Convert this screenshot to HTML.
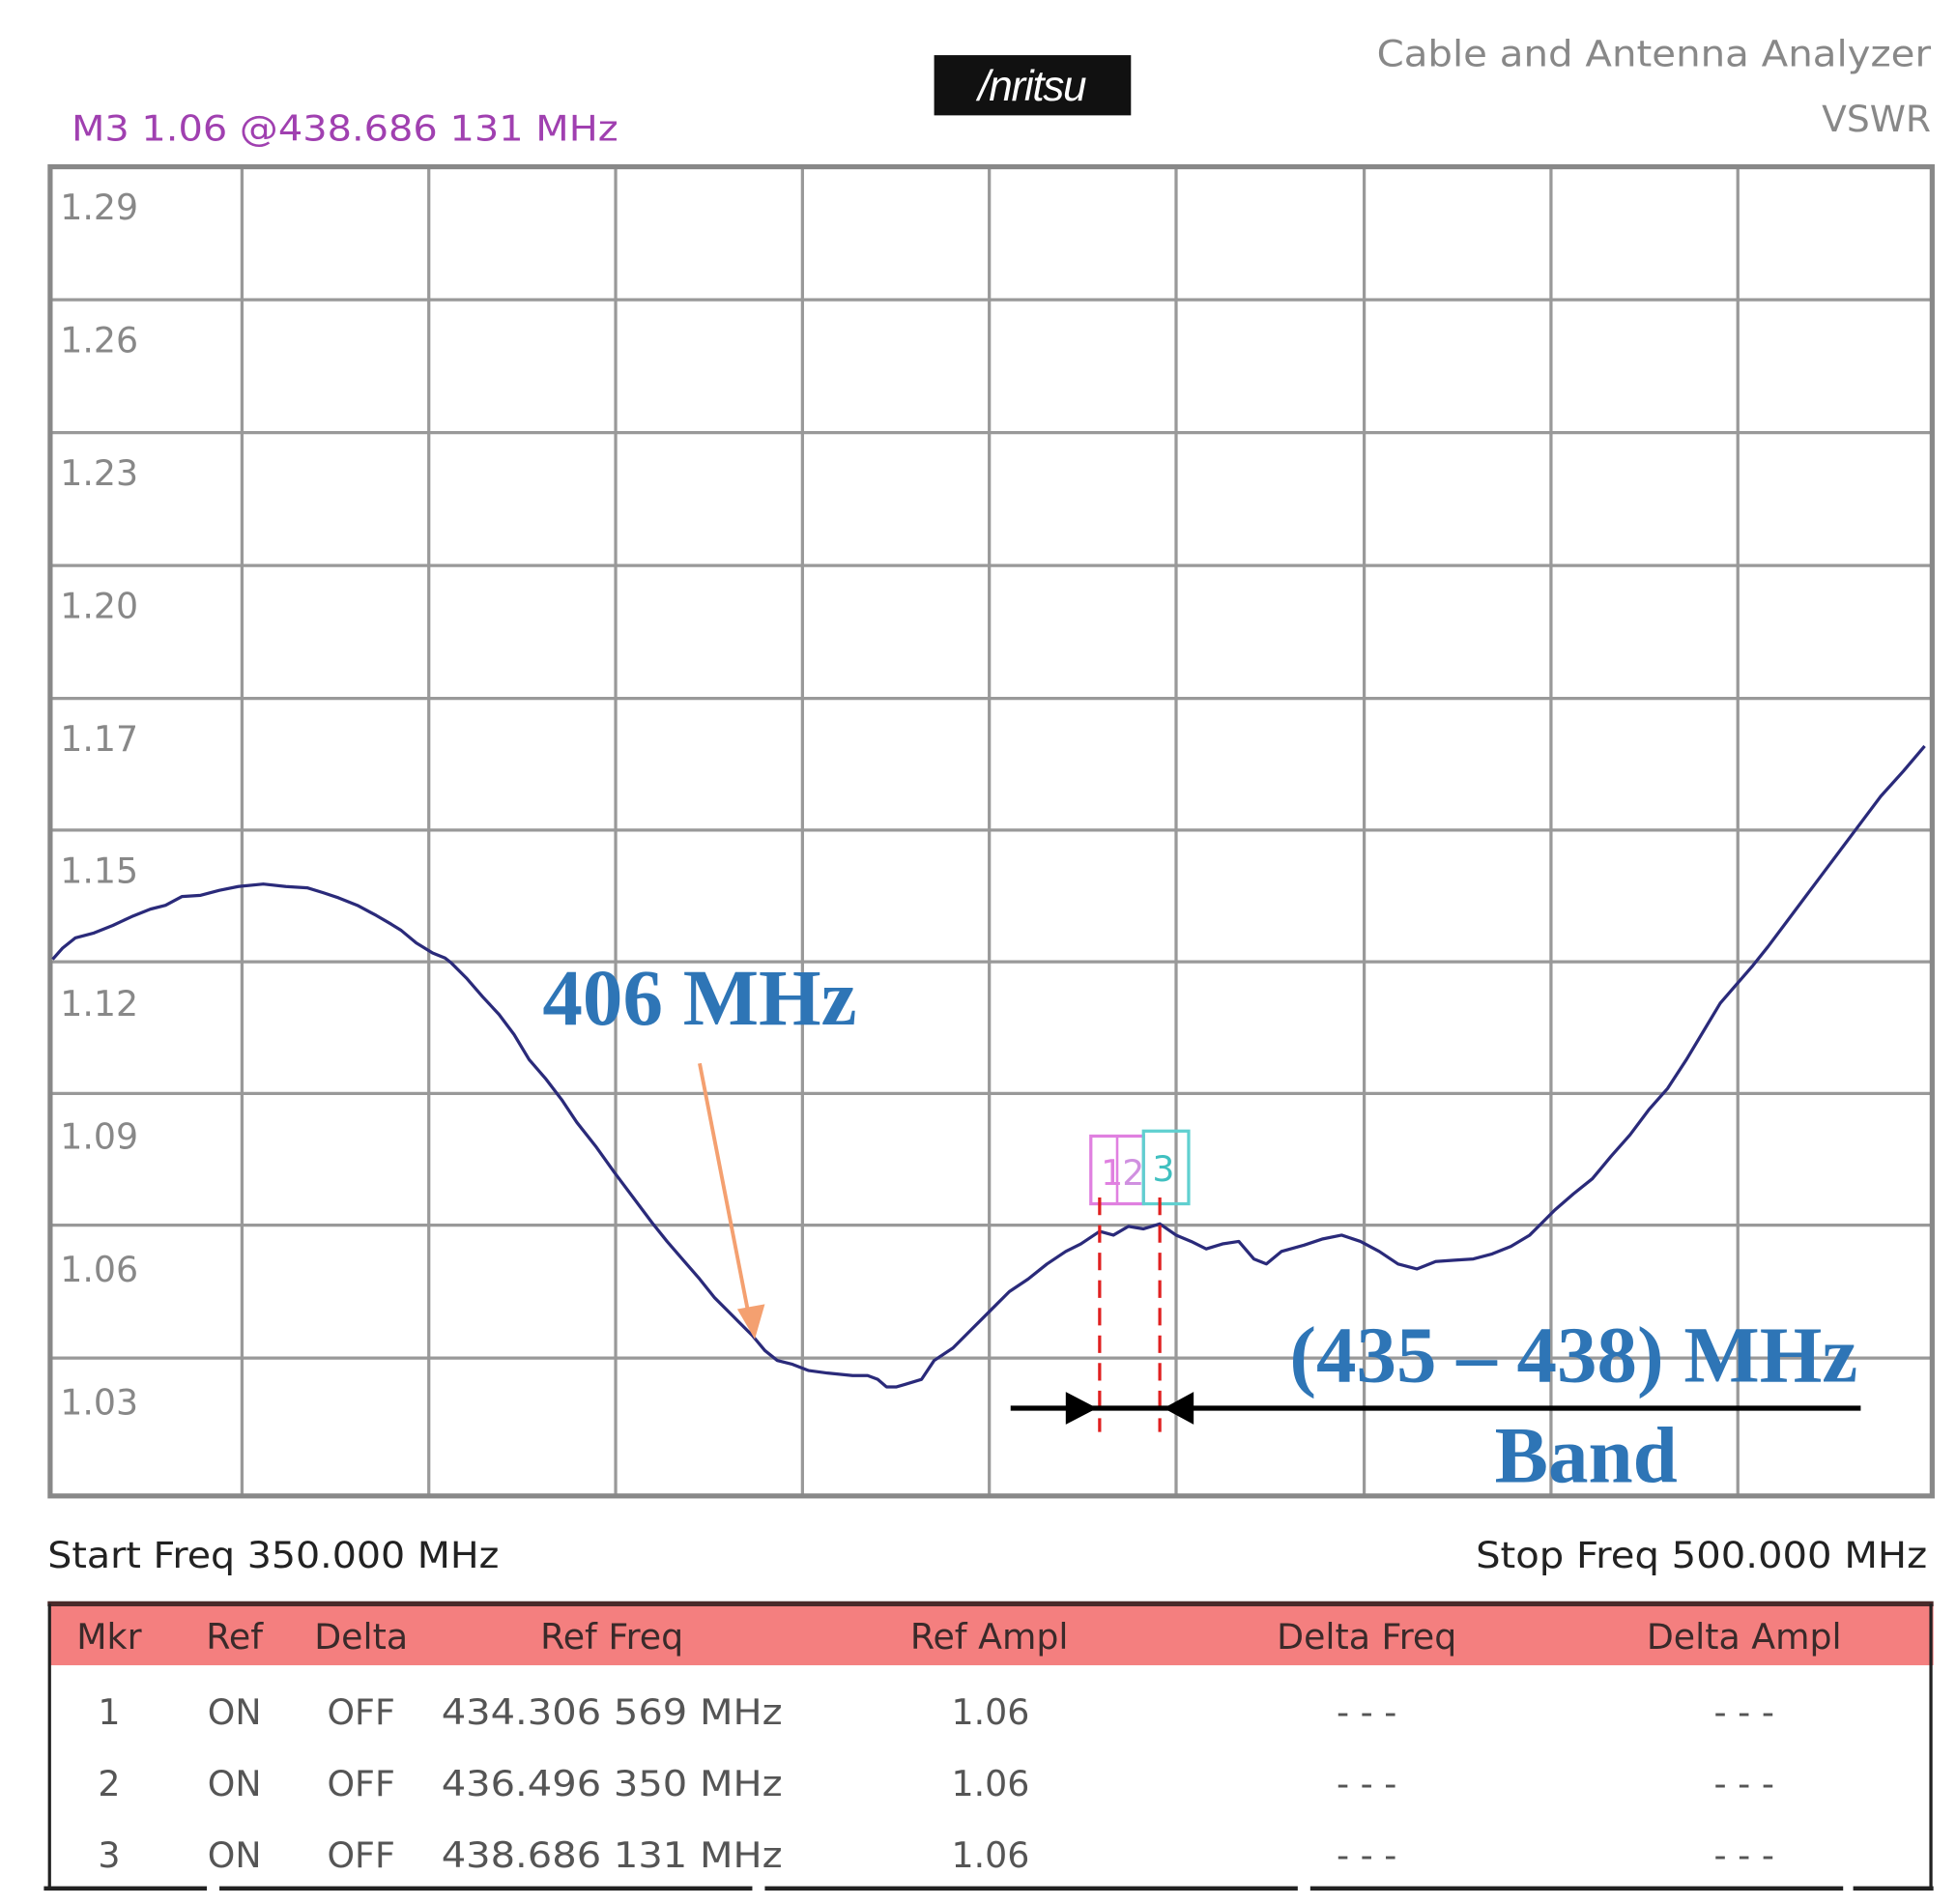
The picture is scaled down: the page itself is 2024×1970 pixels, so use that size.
<!DOCTYPE html>
<html><head><meta charset="utf-8"><style>html,body{margin:0;padding:0;background:#fff}svg{display:block}</style></head>
<body>
<svg width="2024" height="1970" viewBox="0 0 1560 1518.4" preserveAspectRatio="none" xmlns="http://www.w3.org/2000/svg" font-family="DejaVu Sans, sans-serif">
<rect width="1560" height="1518.4" fill="#fff"/>
<!-- header -->
<text x="57" y="112" font-size="28" fill="#a040b0" textLength="436" lengthAdjust="spacingAndGlyphs">M3 1.06 @438.686 131 MHz</text>
<rect x="745" y="44" width="157" height="48" fill="#111"/>
<text x="823" y="80" font-size="34" fill="#fff" text-anchor="middle" font-family="Liberation Sans, sans-serif" font-style="italic" letter-spacing="-1">/nritsu</text>
<text x="1540" y="53" font-size="29" fill="#888" text-anchor="end" textLength="442" lengthAdjust="spacingAndGlyphs">Cable and Antenna Analyzer</text>
<text x="1540" y="105" font-size="29" fill="#888" text-anchor="end">VSWR</text>
<!-- grid -->
<g stroke="#999" stroke-width="2.5" fill="none">
<line x1="193" y1="134" x2="193" y2="1192"/><line x1="342" y1="134" x2="342" y2="1192"/><line x1="491" y1="134" x2="491" y2="1192"/><line x1="640" y1="134" x2="640" y2="1192"/><line x1="789" y1="134" x2="789" y2="1192"/><line x1="938" y1="134" x2="938" y2="1192"/><line x1="1088" y1="134" x2="1088" y2="1192"/><line x1="1237" y1="134" x2="1237" y2="1192"/><line x1="1386" y1="134" x2="1386" y2="1192"/>
<line x1="40" y1="239" x2="1540" y2="239"/><line x1="40" y1="345" x2="1540" y2="345"/><line x1="40" y1="451" x2="1540" y2="451"/><line x1="40" y1="557" x2="1540" y2="557"/><line x1="40" y1="662" x2="1540" y2="662"/><line x1="40" y1="767" x2="1540" y2="767"/><line x1="40" y1="872" x2="1540" y2="872"/><line x1="40" y1="977" x2="1540" y2="977"/><line x1="40" y1="1083" x2="1540" y2="1083"/>
<rect x="40" y="133" width="1501" height="1060" stroke="#888" stroke-width="4"/>
</g>
<g font-size="28" fill="#888">
<text x="48" y="175">1.29</text><text x="48" y="281">1.26</text><text x="48" y="387">1.23</text><text x="48" y="493">1.20</text><text x="48" y="599">1.17</text><text x="48" y="704">1.15</text><text x="48" y="810">1.12</text><text x="48" y="916">1.09</text><text x="48" y="1022">1.06</text><text x="48" y="1128">1.03</text>
</g>
<!-- curve -->
<polyline fill="none" stroke="#2a2a7a" stroke-width="2.5" stroke-linejoin="round" points="42,765 50,756 60,748 75,744 90,738 105,731 120,725 132,722 145,715 160,714 175,710 190,707 210,705 228,707 245,708 258,712 270,716 285,722 300,730 312,737 320,742 332,752 345,760 355,764 360,768 372,780 385,795 398,809 410,825 422,845 435,860 448,877 460,895 475,914 490,935 505,955 520,975 532,990 545,1005 558,1020 570,1035 585,1050 600,1065 610,1077 620,1085 632,1088 645,1093 660,1095 680,1097 692,1097 700,1100 707,1106 715,1106 722,1104 735,1100 745,1085 760,1075 775,1060 790,1045 805,1030 820,1020 835,1008 850,998 862,992 877,982 888,985 900,978 912,980 925,976 938,985 950,990 962,996 975,992 988,990 1000,1004 1010,1008 1022,998 1040,993 1055,988 1070,985 1085,990 1100,998 1115,1008 1130,1012 1145,1006 1160,1005 1175,1004 1190,1000 1205,994 1220,985 1230,975 1240,965 1255,952 1270,940 1285,922 1300,905 1315,885 1330,868 1345,845 1360,820 1372,800 1385,785 1398,770 1410,755 1425,735 1440,715 1455,695 1470,675 1485,655 1500,635 1518,615 1535,595"/>
<!-- markers -->
<rect x="870" y="906" width="42" height="54" fill="none" stroke="#e080e0" stroke-width="2.5"/>
<line x1="891" y1="906" x2="891" y2="960" stroke="#e080e0" stroke-width="2"/>
<text x="878" y="945" font-size="28" fill="#e080e0">1</text><text x="895" y="945" font-size="28" fill="#d090e0">2</text>
<rect x="912" y="902" width="36" height="58" fill="none" stroke="#60d0d0" stroke-width="2.5"/>
<text x="919" y="942" font-size="28" fill="#40c0c0">3</text>
<g stroke="#e02020" stroke-width="2.5" stroke-dasharray="14,8">
<line x1="877" y1="955" x2="877" y2="1142"/><line x1="925" y1="955" x2="925" y2="1142"/>
</g>
<!-- band arrow -->
<line x1="806" y1="1123" x2="1484" y2="1123" stroke="#000" stroke-width="4"/>
<polygon points="850,1110 875,1123 850,1136" fill="#000"/>
<polygon points="952,1110 928,1123 952,1136" fill="#000"/>
<!-- orange arrow -->
<line x1="558" y1="848" x2="597" y2="1048" stroke="#f4a070" stroke-width="3"/>
<polygon points="588,1044 610,1040 602,1068" fill="#f4a070"/>
<g font-family="Liberation Serif, serif" font-weight="bold" fill="#2e75b6">
<text x="558" y="817" font-size="64" text-anchor="middle">406 MHz</text>
<text x="1255" y="1102" font-size="64" text-anchor="middle">(435 – 438) MHz</text>
<text x="1265" y="1182" font-size="64" text-anchor="middle">Band</text>
</g>
<!-- freq labels -->
<text x="38" y="1250" font-size="29" fill="#222" textLength="360" lengthAdjust="spacingAndGlyphs">Start Freq 350.000 MHz</text>
<text x="1537" y="1250" font-size="29" fill="#222" text-anchor="end" textLength="360" lengthAdjust="spacingAndGlyphs">Stop Freq 500.000 MHz</text>
<!-- table -->
<rect x="39" y="1279" width="1503" height="49" fill="#f47f7f"/>
<line x1="38" y1="1279" x2="1542" y2="1279" stroke="#4a2a2a" stroke-width="4"/>
<line x1="39.5" y1="1279" x2="39.5" y2="1505" stroke="#222" stroke-width="2.5"/>
<line x1="1540" y1="1279" x2="1540" y2="1505" stroke="#222" stroke-width="2.5"/>
<g font-size="28" fill="#3a2a2a" text-anchor="middle">
<text x="87" y="1315">Mkr</text><text x="187" y="1315">Ref</text><text x="288" y="1315">Delta</text><text x="488" y="1315">Ref Freq</text><text x="789" y="1315">Ref Ampl</text><text x="1090" y="1315">Delta Freq</text><text x="1391" y="1315">Delta Ampl</text>
</g>
<g font-size="28" fill="#555" text-anchor="middle">
<text x="87" y="1375">1</text><text x="187" y="1375">ON</text><text x="288" y="1375">OFF</text><text x="488" y="1375" textLength="272" lengthAdjust="spacingAndGlyphs">434.306 569 MHz</text><text x="790" y="1375">1.06</text><text x="1090" y="1375">- - -</text><text x="1391" y="1375">- - -</text>
<text x="87" y="1432">2</text><text x="187" y="1432">ON</text><text x="288" y="1432">OFF</text><text x="488" y="1432" textLength="272" lengthAdjust="spacingAndGlyphs">436.496 350 MHz</text><text x="790" y="1432">1.06</text><text x="1090" y="1432">- - -</text><text x="1391" y="1432">- - -</text>
<text x="87" y="1489">3</text><text x="187" y="1489">ON</text><text x="288" y="1489">OFF</text><text x="488" y="1489" textLength="272" lengthAdjust="spacingAndGlyphs">438.686 131 MHz</text><text x="790" y="1489">1.06</text><text x="1090" y="1489">- - -</text><text x="1391" y="1489">- - -</text>
</g>
<g stroke="#222" stroke-width="3.5">
<line x1="35" y1="1506" x2="165" y2="1506"/><line x1="175" y1="1506" x2="600" y2="1506"/><line x1="610" y1="1506" x2="1035" y2="1506"/><line x1="1045" y1="1506" x2="1470" y2="1506"/><line x1="1478" y1="1506" x2="1542" y2="1506"/>
</g>
</svg>
</body></html>
